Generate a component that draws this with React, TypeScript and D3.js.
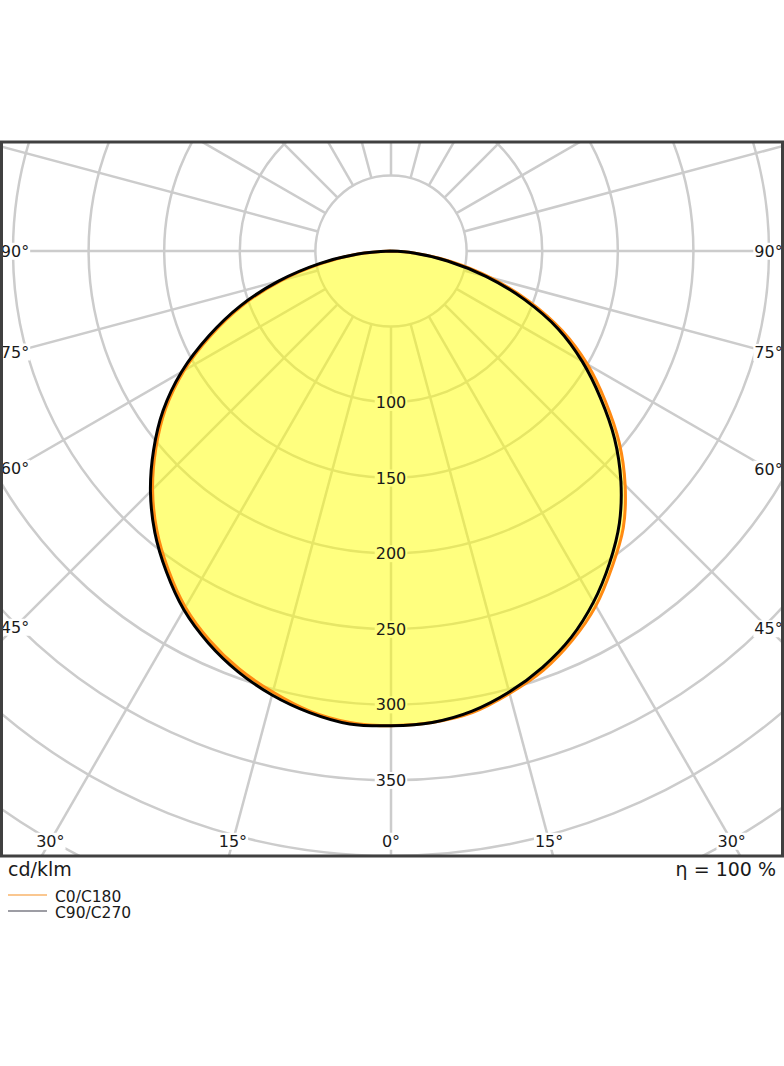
import React, { useEffect, useRef } from 'react';
import * as d3 from 'd3';

// Luminous intensity (cd/klm) per gamma angle
const gammaDeg = [0, 5, 10, 15, 20, 25, 30, 35, 40, 45, 50, 55, 60, 65, 70, 75, 80, 85, 90];
const c0 = [314, 313, 310, 303, 295, 284, 271, 255, 239, 219, 197, 173, 150, 125, 97, 68, 40, 16, 0];
const c180 = [314, 313, 309, 302, 294, 284, 272, 257, 241, 223, 203, 182, 158, 131, 104, 75, 46, 21, 0];
const c90 = [314, 313, 309, 302, 293, 282, 268, 252, 235, 215, 193, 169, 146, 122, 94, 65, 38, 15, 0];
const c270 = [314, 314, 310, 304, 296, 286, 274, 259, 243, 225, 205, 184, 160, 133, 106, 77, 48, 22, 0];

const ringValues = [50, 100, 150, 200, 250, 300, 350, 400, 450, 500];
const ringLabels = [100, 150, 200, 250, 300, 350];
const spokeAngles = [0, 15, 30, 45, 60, 75, 90, 105, 120, 135, 150, 165, 180, 195, 210, 225, 240, 255, 270, 285, 300, 315, 330, 345];
const angleLabels = [0, 15, 30, 45, 60, 75, 90];
const legendNames = ['C0/C180', 'C90/C270'];
const legendColors = ['#f9b56b', '#7d7d86'];

const W = 784;
const H = 1066;
const frame = { x0: 1.5, y0: 142, x1: 782.5, y1: 856 };
const cx = 391;
const cy = 251;
const font = '"DejaVu Sans", sans-serif';

export default function App() {
    const svgRef = useRef<SVGSVGElement>(null);

    useEffect(() => {
        if (!svgRef.current) return;
        const svg = d3.select(svgRef.current);
        svg.selectAll('*').remove();

        const r = d3.scaleLinear().domain([0, 350]).range([0, 529.2]);
        const rad = (d: number) => (d * Math.PI) / 180;

        svg.append('defs').append('clipPath').attr('id', 'frameClip')
            .append('rect')
            .attr('x', frame.x0).attr('y', frame.y0)
            .attr('width', frame.x1 - frame.x0).attr('height', frame.y1 - frame.y0);

        // grid
        const grid = svg.append('g').attr('clip-path', 'url(#frameClip)')
            .append('g').attr('transform', `translate(${cx},${cy})`);

        grid.selectAll('circle')
            .data(ringValues)
            .join('circle')
            .attr('r', d => r(d))
            .attr('fill', 'none')
            .attr('stroke', '#cccccc')
            .attr('stroke-width', 2.5);

        grid.selectAll('line')
            .data(spokeAngles)
            .join('line')
            .attr('x1', d => d3.pointRadial(rad(180 - d), r(50))[0])
            .attr('y1', d => d3.pointRadial(rad(180 - d), r(50))[1])
            .attr('x2', d => d3.pointRadial(rad(180 - d), r(700))[0])
            .attr('y2', d => d3.pointRadial(rad(180 - d), r(700))[1])
            .attr('stroke', '#cccccc')
            .attr('stroke-width', 2.5);

        const boxG = svg.append('g');
        const fillG = svg.append('g').attr('transform', `translate(${cx},${cy})`);
        const curveG = svg.append('g').attr('transform', `translate(${cx},${cy})`);
        const textG = svg.append('g');

        // curves
        type P = [number, number];
        const side = (left: number[], right: number[]): P[] => [
            ...gammaDeg.map((g, i) => [Math.PI + rad(g), r(left[i])] as P).reverse(),
            ...gammaDeg.map((g, i) => [Math.PI - rad(g), r(right[i])] as P).slice(1),
        ];
        const radial = d3.lineRadial<P>()
            .angle(d => d[0])
            .radius(d => d[1])
            .curve(d3.curveCatmullRom);

        const envLeft = gammaDeg.map((_, i) => d3.max([c180[i], c270[i]]) as number);
        const envRight = gammaDeg.map((_, i) => d3.max([c0[i], c90[i]]) as number);

        fillG.append('path')
            .attr('d', radial(side(envLeft, envRight)) + 'Z')
            .attr('fill', '#ffff00')
            .attr('fill-opacity', 0.5)
            .attr('stroke', 'none');

        curveG.append('path')
            .attr('d', radial(side(c180, c0)))
            .attr('fill', 'none')
            .attr('stroke', '#ff8a12')
            .attr('stroke-width', 3);

        curveG.append('path')
            .attr('d', radial(side(c270, c90)))
            .attr('fill', 'none')
            .attr('stroke', '#000000')
            .attr('stroke-width', 3);

        // labels with white backing boxes
        const addLabel = (x: number, y: number, txt: string) => {
            const t = textG.append('text')
                .attr('x', x).attr('y', y)
                .attr('dy', '0.36em')
                .attr('text-anchor', 'middle')
                .attr('font-family', font)
                .attr('font-size', 16)
                .attr('fill', '#1a1a1a')
                .text(txt);
            const bb = (t.node() as SVGTextElement).getBBox();
            boxG.append('rect')
                .attr('x', bb.x - 1).attr('y', bb.y + 1)
                .attr('width', bb.width + 2).attr('height', bb.height - 2)
                .attr('fill', '#ffffff');
        };

        ringLabels.forEach(v => addLabel(cx, cy + r(v), String(v)));

        const labelPos = (g: number, s: number): [number, number] => {
            const dx = s * Math.sin(rad(g));
            const dy = Math.cos(rad(g));
            const ts: number[] = [];
            if (dx < -1e-9) ts.push((15 - cx) / dx);
            if (dx > 1e-9) ts.push((768.5 - cx) / dx);
            if (dy > 1e-9) ts.push((841 - cy) / dy);
            const t = Math.min(...ts);
            return [cx + t * dx, cy + t * dy];
        };

        angleLabels.forEach(g => {
            const sides = g === 0 ? [1] : [-1, 1];
            sides.forEach(s => {
                const [x, y] = labelPos(g, s);
                addLabel(x, y, `${g}°`);
            });
        });

        // frame
        svg.append('rect')
            .attr('x', frame.x0).attr('y', frame.y0)
            .attr('width', frame.x1 - frame.x0).attr('height', frame.y1 - frame.y0)
            .attr('fill', 'none')
            .attr('stroke', '#404040')
            .attr('stroke-width', 3);

        // units and efficiency
        svg.append('text')
            .attr('x', 8).attr('y', 876)
            .attr('font-family', font).attr('font-size', 19)
            .attr('fill', '#1a1a1a')
            .text('cd/klm');

        svg.append('text')
            .attr('x', 776).attr('y', 876)
            .attr('text-anchor', 'end')
            .attr('font-family', font).attr('font-size', 19)
            .attr('fill', '#1a1a1a')
            .text('η = 100 %');

        // legend
        const legend = svg.append('g');
        legendNames.forEach((name, i) => {
            const y = 895 + i * 16;
            legend.append('line')
                .attr('x1', 8).attr('x2', 47)
                .attr('y1', y).attr('y2', y)
                .attr('stroke', legendColors[i])
                .attr('stroke-width', 1.5);
            legend.append('text')
                .attr('x', 55).attr('y', y + 6.5)
                .attr('font-family', font).attr('font-size', 15.5)
                .attr('fill', '#1a1a1a')
                .text(name);
        });
    }, []);

    return (
        <div style={{ position: 'absolute', left: 0, top: 0 }}>
            <svg ref={svgRef} width={W} height={H} viewBox={`0 0 ${W} ${H}`} style={{ display: 'block', background: '#ffffff' }} />
        </div>
    );
}
